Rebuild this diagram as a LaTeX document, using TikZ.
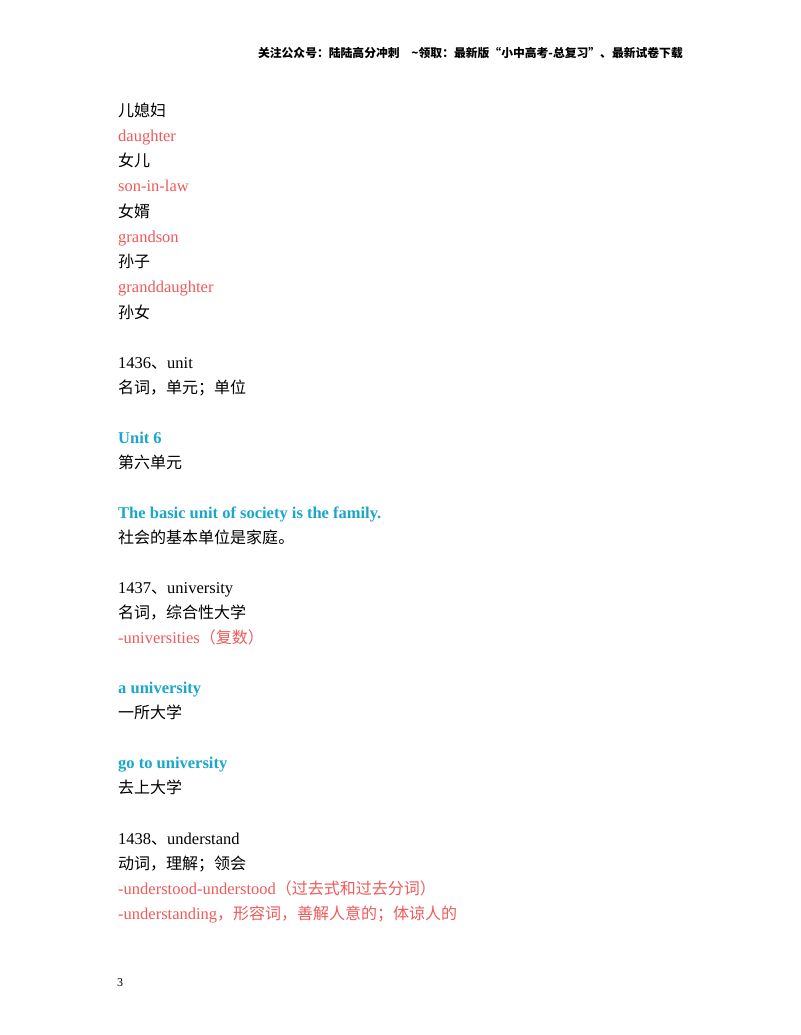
\documentclass[tikz,border=0pt]{standalone}
\usepackage{fontspec}
\setmainfont{Liberation Serif}
\newfontfamily\cjk[Scale=0.97]{Noto Sans CJK SC}
\newfontfamily\cjkh{Noto Sans CJK SC}
\definecolor{wred}{HTML}{F05A5A}
\definecolor{wcyan}{HTML}{1AA7C8}
\begin{document}
\begin{tikzpicture}[x=1pt,y=-1pt,
  ln/.style={anchor=base west,inner sep=0pt,font=\fontsize{16.5}{16}\selectfont},
  rd/.style={ln,text=wred},
  cy/.style={ln,text=wcyan,font=\fontsize{16.5}{16}\selectfont\bfseries}]
\useasboundingbox[fill=white] (0,0) rectangle (800,1035);
\node[anchor=base east,inner sep=0pt,font=\fontsize{11.8}{12}\selectfont\cjkh\bfseries] (hd) at (683,58) {关注公众号：陆陆高分冲刺\quad \textasciitilde 领取：最新版“小中高考-总复习”、最新试卷下载};
\node[ln] (l1) at (118,117) {\cjk 儿媳妇};
\node[rd] (l2) at (118,142) {daughter};
\node[ln] (l3) at (118,167) {\cjk 女儿};
\node[rd] (l4) at (118,192) {son-in-law};
\node[ln] (l5) at (118,217) {\cjk 女婿};
\node[rd] (l6) at (118,242) {grandson};
\node[ln] (l7) at (118,267) {\cjk 孙子};
\node[rd] (l8) at (118,292) {granddaughter};
\node[ln] (l9) at (118,318) {\cjk 孙女};
\node[ln] (l10) at (118,368) {1436{\cjk 、}unit};
\node[ln] (l11) at (118,393) {\cjk 名词，单元；单位};
\node[cy] (l12) at (118,443) {Unit 6};
\node[ln] (l13) at (118,468) {\cjk 第六单元};
\node[cy] (l14) at (118,518) {The basic unit of society is the family.};
\node[ln] (l15) at (118,543) {\cjk 社会的基本单位是家庭。};
\node[ln] (l16) at (118,593) {1437{\cjk 、}university};
\node[ln] (l17) at (118,618) {\cjk 名词，综合性大学};
\node[rd] (l18) at (118,643) {-universities{\cjk （复数）}};
\node[cy] (l19) at (118,693) {a university};
\node[ln] (l20) at (118,718) {\cjk 一所大学};
\node[cy] (l21) at (118,768) {go to university};
\node[ln] (l22) at (118,793) {\cjk 去上大学};
\node[ln] (l23) at (118,844) {1438{\cjk 、}understand};
\node[ln] (l24) at (118,869) {\cjk 动词，理解；领会};
\node[rd] (l25) at (118,894) {-understood-understood{\cjk （过去式和过去分词）}};
\node[rd] (l26) at (118,919) {-understanding{\cjk ，形容词，善解人意的；体谅人的}};
\node[anchor=base west,inner sep=0pt,font=\fontsize{12}{12}\selectfont] (pg) at (117,986) {3};
\end{tikzpicture}
\end{document}
